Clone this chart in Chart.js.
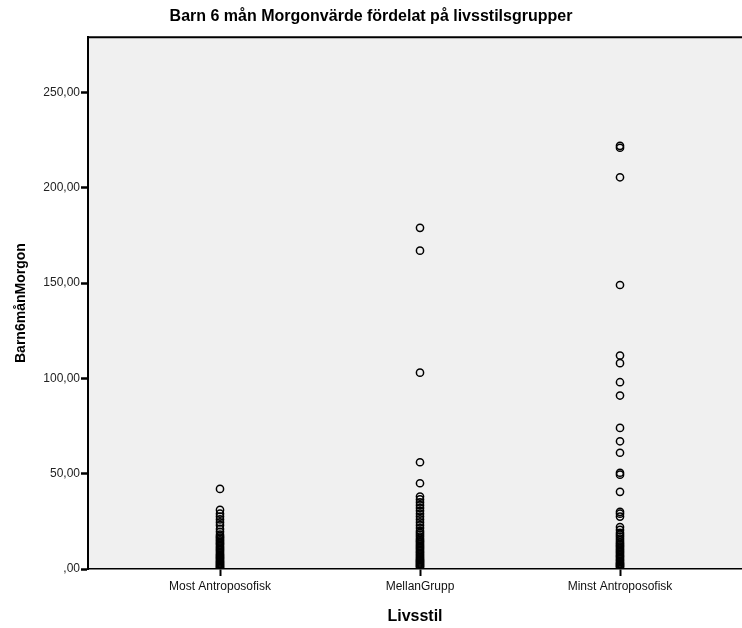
<!DOCTYPE html>
<html>
<head>
<meta charset="utf-8">
<script src="https://cdn.jsdelivr.net/npm/chart.js@4"></script>
<style>
    html, body { margin: 0; padding: 0; background: #fff; }
    #wrap { width: 742px; height: 628px; position: relative; }
</style>
</head>
<body>
<div id="wrap"><canvas id="chart"></canvas></div>
<script>
// Livsstil groups and Barn6månMorgon values
const groups = ['Most Antroposofisk', 'MellanGrupp', 'Minst Antroposofisk'];
const mostAntro = [42, 31, 29, 27.5, 26, 24.5, 23, 21, 19.5, 18, 17.2, 16.5, 15.8, 15, 14.2, 13.5, 12.8, 12, 11.2, 10.5, 9.8, 9, 8.2, 7.5, 7, 6.3, 5.8, 5.2, 4.6, 4, 3.5, 3, 2.5, 2, 1.5, 1, 0.5];
const mellanGrupp = [179, 167, 103, 56, 45, 38, 36.5, 35, 33.5, 32, 30.5, 29, 27.5, 26, 24.5, 23, 21.5, 20, 19, 18, 17, 16, 15.2, 14.5, 13.8, 13, 12.2, 11.5, 10.8, 10, 9.2, 8.5, 7.8, 7, 6.3, 5.6, 5, 4.5, 4, 3.5, 3, 2.5, 2, 1.5, 1];
const minstAntro = [222, 221, 205.5, 149, 112, 108, 98, 91, 74, 67, 61, 50.5, 49.5, 40.5, 30, 29, 27.5, 22, 20.5, 19, 18, 17, 16, 15, 14, 13.2, 12.5, 11.8, 11, 10.2, 9.5, 8.8, 8, 7.2, 6.5, 5.8, 5, 4.3, 3.6, 3, 2.5, 2, 1.5, 1];
const yTicks = [0, 50, 100, 150, 200, 250];

function toPoints(vals, pos) {
    return vals.map(function (v) { return { x: pos, y: v }; });
}

function fmt(v) {
    const s = Number(v).toFixed(2).replace('.', ',');
    return v === 0 ? ',00' : s;
}

const plotBg = {
    id: 'plotBg',
    beforeDraw: function (chart) {
        const a = chart.chartArea, ctx = chart.ctx;
        ctx.save();
        ctx.fillStyle = '#f0f0f0';
        ctx.fillRect(a.left, a.top, a.right - a.left, a.bottom - a.top);
        ctx.restore();
    },
    afterDraw: function (chart) {
        const a = chart.chartArea, ctx = chart.ctx;
        ctx.save();
        ctx.strokeStyle = '#000';
        ctx.lineWidth = 2;
        ctx.beginPath();
        ctx.moveTo(a.left - 1, a.top);
        ctx.lineTo(a.right, a.top);
        ctx.stroke();
        ctx.restore();
    }
};

const pointStyle = {
    pointRadius: 3.6,
    pointHoverRadius: 3.6,
    pointBorderWidth: 1.5,
    borderColor: '#000',
    backgroundColor: 'rgba(0,0,0,0)',
    pointBackgroundColor: 'rgba(0,0,0,0)'
};

new Chart(document.getElementById('chart'), {
    type: 'scatter',
    data: {
        datasets: [
            Object.assign({ label: groups[0], data: toPoints(mostAntro, 1) }, pointStyle),
            Object.assign({ label: groups[1], data: toPoints(mellanGrupp, 2) }, pointStyle),
            Object.assign({ label: groups[2], data: toPoints(minstAntro, 3) }, pointStyle)
        ]
    },
    options: {
        responsive: true,
        maintainAspectRatio: false,
        animation: false,
        layout: { autoPadding: false, padding: { left: 0, right: 0, top: 0, bottom: 0 } },
        plugins: {
            legend: { display: false },
            tooltip: { enabled: false },
            title: {
                display: true,
                text: 'Barn 6 mån Morgonvärde fördelat på livsstilsgrupper',
                color: '#000',
                font: { family: 'Liberation Sans, Arial, sans-serif', size: 16, weight: 'bold' },
                padding: { top: 7, bottom: 11 }
            }
        },
        scales: {
            x: {
                type: 'linear',
                min: 0.34,
                max: 3.61,
                afterBuildTicks: function (scale) {
                    scale.ticks = groups.map(function (g, i) { return { value: i + 1 }; });
                },
                afterFit: function (scale) { scale.height = 59; },
                ticks: {
                    color: '#111',
                    font: { family: 'Liberation Sans, Arial, sans-serif', size: 12 },
                    padding: 3,
                    maxRotation: 0,
                    callback: function (v) { return groups[Math.round(v) - 1]; }
                },
                grid: { drawOnChartArea: false, drawTicks: true, tickLength: 7, tickWidth: 2, tickColor: '#000' },
                border: { display: true, color: '#000', width: 1.5 },
                title: {
                    display: true,
                    text: 'Livsstil',
                    color: '#000',
                    font: { family: 'Liberation Sans, Arial, sans-serif', size: 16, weight: 'bold' },
                    padding: { top: 0, bottom: 2 }
                }
            },
            y: {
                min: 0,
                max: 279,
                afterBuildTicks: function (scale) {
                    scale.ticks = yTicks.map(function (v) { return { value: v }; });
                },
                afterFit: function (scale) { scale.width = 88; },
                ticks: {
                    color: '#222',
                    font: { family: 'Liberation Sans, Arial, sans-serif', size: 12 },
                    padding: 1,
                    callback: function (v) { return fmt(v); }
                },
                grid: { drawOnChartArea: false, drawTicks: true, tickLength: 7, tickWidth: 2.5, tickColor: '#000' },
                border: { display: true, color: '#000', width: 2 },
                title: {
                    display: true,
                    text: 'Barn6månMorgon',
                    color: '#000',
                    font: { family: 'Liberation Sans, Arial, sans-serif', size: 14, weight: 'bold' },
                    padding: { top: 13, bottom: 0 }
                }
            }
        }
    },
    plugins: [plotBg]
});
</script>
</body>
</html>
